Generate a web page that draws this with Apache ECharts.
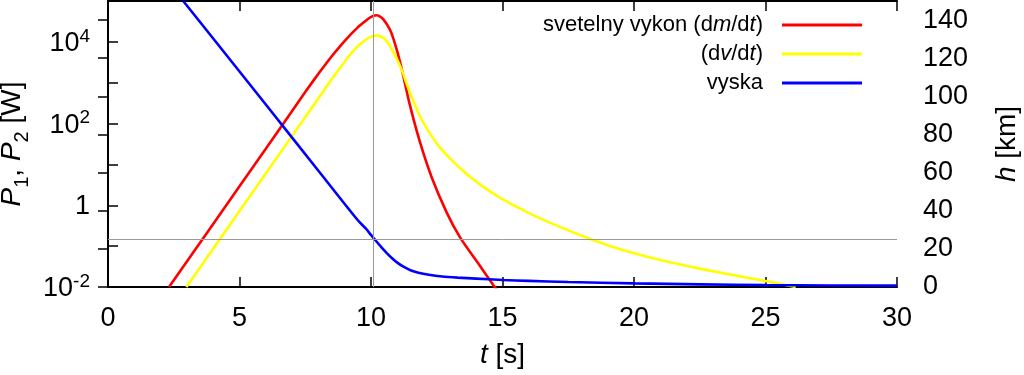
<!DOCTYPE html>
<html>
<head>
<meta charset="utf-8">
<script src="https://cdn.jsdelivr.net/npm/echarts@6/dist/echarts.min.js"></script>
<style>
html,body{margin:0;padding:0;background:#fff;}
#c{width:1024px;height:375px;}
</style>
</head>
<body>
<div id="c"></div>
<script>
// ---- data ----
// red: light power (log axis)
const tRed = [2.32, 4.0, 6.0, 7.5, 7.9, 8.2, 8.5, 8.82, 9.15, 9.46, 9.75, 9.95, 10.1, 10.2, 10.28, 10.47, 10.72, 10.85, 11.0, 11.17, 11.48, 11.86, 12.31, 12.88, 13.38, 14.14, 14.65, 14.8];
const pRed = [0.01, 0.35, 24.3, 589, 1350, 2450, 4370, 7760, 13490, 21380, 30900, 38900, 43650, 44670, 43650, 35480, 19950, 12020, 5750, 2140, 282, 35.5, 4.79, 0.661, 0.166, 0.0331, 0.0112, 0.0083];

// yellow: (dv/dt) power (log axis)
const tYellow = [2.98, 5.0, 7.0, 8.5, 8.82, 9.15, 9.46, 9.7, 9.95, 10.22, 10.5, 10.72, 11.0, 11.17, 11.4, 11.61, 11.9, 12.24, 12.6, 13.0, 13.4, 13.76, 14.3, 14.9, 15.67, 16.17, 17.0, 18.07, 19.0, 19.97, 21.0, 22.5, 23.8, 25.04, 25.9, 26.15];
const pYellow = [0.01, 0.72, 50, 1200, 2290, 4370, 7410, 10000, 12900, 14450, 12020, 7940, 3630, 2040, 794, 355, 135, 57.5, 26.9, 14.1, 7.94, 5.01, 2.75, 1.55, 0.832, 0.575, 0.331, 0.174, 0.105, 0.0676, 0.0457, 0.0282, 0.0195, 0.0138, 0.0107, 0.01];

// blue: altitude h [km] (right axis)
const tBlue = [2.86, 4.0, 6.0, 8.0, 9.5, 9.8, 10.0, 10.2, 10.4, 10.6, 10.8, 11.0, 11.25, 11.5, 11.8, 12.2, 12.7, 13.3, 14.0, 15.0, 16.0, 17.5, 20.0, 22.5, 25.0, 27.5, 30.0];
const hBlue = [150, 130.3, 95.7, 61, 35, 30.7, 27.3, 24.0, 20.8, 17.8, 15.1, 12.8, 10.5, 8.8, 7.5, 6.4, 5.5, 4.9, 4.4, 3.7, 3.2, 2.6, 1.9, 1.4, 1.0, 0.8, 0.7];

const xTicks = [0, 5, 10, 15, 20, 25, 30];
const hTicks = [0, 20, 40, 60, 80, 100, 120, 140];
const peakTime = 10.1;      // vertical guide line
const peakHeight = 25.3;    // horizontal guide line (h axis)

const seriesNames = ['svetelny vykon (dm/dt)', '(dv/dt)', 'vyska'];
const seriesColors = ['#ff0000', '#ffff00', '#0000ff'];

// ---- chart ----
const FONT = '"Liberation Sans", Arial, Helvetica, sans-serif';
const pairs = (xs, ys) => xs.map((x, i) => [x, ys[i]]);

const legendRich = {
  a: {fontFamily: FONT, fontSize: 22, color: '#000'},
  i: {fontFamily: FONT, fontSize: 22, color: '#000', fontStyle: 'italic'},
  g: {width: 14}
};
const legendFmt = {
  'svetelny vykon (dm/dt)': '{a|svetelny vykon (d}{i|m}{a|/d}{i|t}{a|)}{g| }',
  '(dv/dt)': '{a|(d}{i|v}{a|/d}{i|t}{a|)}{g| }',
  'vyska': '{a|vyska}{g| }'
};
const legendTops = [12, 41, 70];

function mkLegend(idx) {
  return {
    data: [seriesNames[idx]],
    right: 162,
    top: legendTops[idx],
    orient: 'vertical',
    align: 'right',
    padding: 0,
    icon: 'rect',
    itemWidth: 80,
    itemHeight: 3,
    selectedMode: false,
    formatter: n => legendFmt[n],
    textStyle: {fontFamily: FONT, fontSize: 22, color: '#000', lineHeight: 26, rich: legendRich}
  };
}

const axisLineStyle = {show: true, lineStyle: {color: '#000', width: 2}};
const tickStyle = {show: true, inside: true, length: 10, lineStyle: {color: '#000', width: 1.5}};
const labelFont = {fontFamily: FONT, fontSize: 27, color: '#000'};

function lineSeries(idx, xs, ys, yAxisIndex) {
  return {
    name: seriesNames[idx], type: 'line', xAxisIndex: 0, yAxisIndex: yAxisIndex, z: 3,
    data: pairs(xs, ys), showSymbol: false, smooth: 0.3,
    lineStyle: {color: seriesColors[idx], width: 2.6}, itemStyle: {color: seriesColors[idx]}
  };
}

const option = {
  animation: false,
  backgroundColor: '#fff',
  grid: {left: 108, right: 127, top: 1, bottom: 88, containLabel: false, outerBoundsMode: 'none'},
  legend: [mkLegend(0), mkLegend(1), mkLegend(2)],
  xAxis: [
    {
      type: 'value', min: xTicks[0], max: xTicks[xTicks.length - 1], interval: xTicks[1] - xTicks[0],
      position: 'bottom',
      axisLine: axisLineStyle, axisTick: tickStyle, splitLine: {show: false},
      axisLabel: Object.assign({margin: 18}, labelFont),
      name: '{i|t} [s]', nameLocation: 'middle', nameGap: 54,
      nameTextStyle: {fontFamily: FONT, fontSize: 28, color: '#000',
        rich: {i: {fontFamily: FONT, fontSize: 28, fontStyle: 'italic', color: '#000'}}}
    },
    {
      type: 'value', min: xTicks[0], max: xTicks[xTicks.length - 1], interval: xTicks[1] - xTicks[0],
      position: 'top',
      axisLine: axisLineStyle, axisTick: tickStyle, splitLine: {show: false},
      axisLabel: {show: false}
    }
  ],
  yAxis: [
    {
      type: 'log', logBase: 10, min: 0.01, max: 1e5, splitNumber: 7,
      position: 'left',
      axisLine: axisLineStyle, axisTick: tickStyle, splitLine: {show: false},
      axisLabel: {
        margin: 18,
        formatter: v => {
          const e = Math.round(Math.log10(v));
          if (e % 2 !== 0) return '';
          if (e === 0) return '{b|1}';
          return '{b|10}{s|' + String(e) + '}';
        },
        rich: {
          b: {fontFamily: FONT, fontSize: 27, color: '#000', lineHeight: 30, verticalAlign: 'bottom'},
          s: {fontFamily: FONT, fontSize: 19, color: '#000', verticalAlign: 'top', lineHeight: 20}
        }
      },
      name: '{i|P}{s|1}{n|, }{i|P}{s|2}{n| [W]}', nameLocation: 'middle', nameGap: 74, nameRotate: 90,
      nameTextStyle: {
        fontFamily: FONT, fontSize: 28, color: '#000',
        rich: {
          i: {fontFamily: FONT, fontSize: 28, fontStyle: 'italic', color: '#000', lineHeight: 34, verticalAlign: 'top'},
          n: {fontFamily: FONT, fontSize: 28, color: '#000', lineHeight: 34, verticalAlign: 'top'},
          s: {fontFamily: FONT, fontSize: 20, color: '#000', lineHeight: 20, verticalAlign: 'bottom'}
        }
      }
    },
    {
      type: 'value', min: hTicks[0], max: 150, interval: hTicks[1] - hTicks[0],
      position: 'right',
      axisLine: axisLineStyle, axisTick: tickStyle, splitLine: {show: false},
      axisLabel: Object.assign({margin: 26, showMaxLabel: false,
        formatter: v => (hTicks.indexOf(v) >= 0 ? String(v) : '')}, labelFont),
      name: '{i|h} [km]', nameLocation: 'middle', nameGap: 96, nameRotate: 90,
      nameTextStyle: {fontFamily: FONT, fontSize: 28, color: '#000',
        rich: {i: {fontFamily: FONT, fontSize: 28, fontStyle: 'italic', color: '#000'}}}
    }
  ],
  series: [
    {
      name: 'guides', type: 'line', xAxisIndex: 0, yAxisIndex: 1, data: [], z: 1,
      markLine: {
        silent: true, symbol: 'none', animation: false,
        label: {show: false},
        lineStyle: {color: '#999', width: 1, type: 'solid'},
        data: [{xAxis: peakTime}, {yAxis: peakHeight}]
      }
    },
    lineSeries(0, tRed, pRed, 0),
    lineSeries(1, tYellow, pYellow, 0),
    lineSeries(2, tBlue, hBlue, 1)
  ]
};

const chart = echarts.init(document.getElementById('c'), null, {renderer: 'canvas'});
chart.setOption(option);
</script>
</body>
</html>
